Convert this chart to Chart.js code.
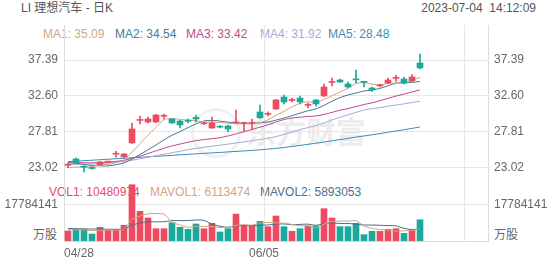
<!DOCTYPE html>
<html>
<head>
<meta charset="utf-8">
<script src="https://cdn.jsdelivr.net/npm/chart.js@4.4.0/dist/chart.umd.min.js"></script>
<style>
  body { margin: 0; background: #fff; font-family: "Liberation Sans", Arial, "Noto Sans CJK SC", sans-serif; }
  #wrap { position: relative; width: 552px; height: 265px; overflow: hidden; }
  .t { position: absolute; font-size: 12px; line-height: 14px; white-space: pre; }
  .wm { position: absolute; color: rgba(170,170,170,0.22); font-family: "Noto Sans CJK SC", sans-serif; }
  canvas { position: absolute; left: 0; top: 0; z-index: 1; }
</style>
</head>
<body>
<div id="wrap">
  <div class="t" style="left:21px;top:1px;color:#555">LI 理想汽车 - 日K</div>
  <div class="t" style="right:16px;top:1px;color:#555">2023-07-04  14:12:09</div>
  <div class="wm" style="left:191px;top:108px;width:44px;height:44px;border:3px solid rgba(170,170,170,0.18);border-radius:50%"></div>
  <div class="wm" style="left:246px;top:110px;font-size:30px;font-weight:bold;line-height:40px">东方财富</div>
  <div id="maLegend"></div>
  <div id="volLegend"></div>
  <div class="t" style="left:33px;top:228px;color:#666">万股</div>
  <div class="t" style="left:494px;top:228px;color:#666">万股</div>
  <canvas id="kline" width="552" height="265"></canvas>
</div>
<script>
// trading days shown, then empty slots to the right
const dates = ["04/28", "05/01", "05/02", "05/03", "05/04", "05/05", "05/08", "05/09", "05/10", "05/11",
  "05/12", "05/15", "05/16", "05/17", "05/18", "05/19", "05/22", "05/23", "05/24", "05/25",
  "05/26", "05/30", "05/31", "06/01", "06/02", "06/05", "06/06", "06/07", "06/08", "06/09",
  "06/12", "06/13", "06/14", "06/15", "06/16", "06/20", "06/21", "06/22", "06/23", "06/26",
  "06/27", "06/28", "06/29", "06/30", "07/03"];
const slotCount = 53;
const xTickLabels = ["04/28", "06/05"];
const priceTicks = [37.39, 32.60, 27.81, 23.02];
const volTicks = [17784141];

const opens = [23.38, 24.22, 23.20, 23.10, 23.42, 23.80, 24.85, 24.48, 26.35, 29.35,
  29.14, 29.14, 29.90, 29.54, 29.27, 29.30, 29.75, 28.90, 28.34, 28.55,
  28.61, 29.01, 28.95, 28.95, 30.47, 30.15, 30.87, 32.47, 32.00, 32.33,
  31.35, 32.07, 32.60, 34.40, 34.73, 34.20, 34.86, 34.50, 33.66, 33.95,
  34.33, 34.95, 34.86, 34.60, 36.99];
const highs = [23.70, 24.35, 23.35, 23.15, 23.90, 23.92, 25.25, 24.95, 29.01, 29.94,
  29.80, 30.15, 30.20, 29.60, 29.35, 29.54, 30.07, 29.10, 29.81, 28.65,
  28.70, 30.74, 29.14, 29.54, 31.40, 30.50, 32.15, 32.73, 32.33, 32.60,
  31.67, 32.15, 34.20, 34.99, 34.86, 34.46, 36.06, 34.50, 33.80, 34.20,
  35.00, 35.35, 35.10, 35.45, 38.19];
const lows = [23.05, 23.60, 22.49, 22.85, 23.38, 23.72, 24.45, 24.40, 26.30, 28.87,
  29.01, 29.05, 29.54, 28.95, 28.34, 29.01, 29.14, 28.80, 28.30, 28.35,
  27.81, 28.95, 27.81, 28.21, 29.60, 29.95, 30.80, 31.54, 31.80, 31.54,
  31.00, 31.27, 32.55, 33.93, 34.40, 33.66, 34.33, 33.80, 33.20, 33.80,
  34.25, 34.55, 34.20, 34.50, 36.20];
const closes = [23.46, 23.69, 23.12, 22.95, 23.82, 23.84, 24.92, 24.88, 28.21, 29.45,
  29.54, 30.07, 29.97, 29.01, 28.74, 29.24, 29.55, 28.98, 29.01, 28.45,
  28.21, 29.10, 29.05, 29.05, 29.70, 30.25, 32.07, 31.80, 32.10, 31.80,
  31.45, 31.54, 33.80, 34.50, 34.46, 33.80, 34.75, 34.42, 33.40, 34.05,
  34.73, 35.05, 34.33, 35.13, 36.33];

const ma1 = [23.05, 23.15, 23.15, 23.20, 23.41, 23.48, 23.73, 24.08, 25.13, 26.26,
  27.40, 28.43, 29.45, 29.61, 29.47, 29.41, 29.30, 29.15, 29.12, 29.08,
  28.95, 28.90, 28.90, 28.92, 29.05, 29.43, 30.02, 30.57, 31.18, 31.60,
  31.84, 31.74, 32.14, 32.62, 33.15, 33.62, 34.26, 34.39, 34.17, 34.08,
  34.27, 34.33, 34.31, 34.66, 35.09];
const ma2 = [23.75, 23.65, 23.50, 23.35, 23.30, 23.30, 23.45, 23.70, 24.20, 24.83,
  25.44, 26.08, 26.77, 27.37, 27.86, 28.40, 28.87, 29.28, 29.36, 29.26,
  29.12, 29.03, 28.93, 28.94, 29.03, 29.14, 29.39, 29.67, 29.98, 30.31,
  30.64, 30.88, 31.36, 31.90, 32.38, 32.73, 33.00, 33.26, 33.39, 33.62,
  33.95, 34.30, 34.35, 34.41, 34.54];
const ma3 = [23.70, 23.72, 23.72, 23.70, 23.75, 23.80, 23.90, 24.05, 24.30, 24.60,
  24.95, 25.30, 25.65, 25.95, 26.20, 26.45, 26.65, 26.80, 26.92, 27.05,
  27.28, 27.55, 27.85, 28.15, 28.45, 28.77, 29.13, 29.47, 29.67, 29.78,
  29.88, 29.95, 30.15, 30.42, 30.71, 30.93, 31.19, 31.47, 31.69, 31.97,
  32.29, 32.59, 32.85, 33.14, 33.42];
const ma4 = [23.45, 23.50, 23.52, 23.55, 23.60, 23.68, 23.78, 23.90, 24.05, 24.25,
  24.45, 24.65, 24.85, 25.05, 25.25, 25.45, 25.62, 25.78, 25.92, 26.05,
  26.20, 26.35, 26.50, 26.65, 26.80, 26.98, 27.20, 27.50, 27.82, 28.13,
  28.40, 28.66, 29.02, 29.40, 29.76, 30.09, 30.42, 30.74, 30.91, 31.06,
  31.24, 31.40, 31.55, 31.73, 31.92];
const ma5 = [23.86, 23.92, 23.99, 24.05, 24.12, 24.18, 24.25, 24.31, 24.38, 24.44,
  24.51, 24.57, 24.64, 24.70, 24.77, 24.83, 24.90, 24.96, 25.03, 25.09,
  25.16, 25.22, 25.29, 25.36, 25.44, 25.53, 25.63, 25.75, 25.88, 26.02,
  26.17, 26.32, 26.48, 26.64, 26.80, 26.96, 27.12, 27.28, 27.44, 27.60,
  27.77, 27.94, 28.11, 28.29, 28.48];

const volumes = [4940000, 5760000, 5760000, 3460000, 6750000, 5430000, 5760000, 7740000, 27800000, 14650000,
  11360000, 6090000, 6090000, 9050000, 6750000, 5760000, 8400000, 6090000, 8720000, 4450000,
  6090000, 13300000, 7740000, 7740000, 9710000, 7080000, 12350000, 7080000, 4770000, 6090000,
  7410000, 7410000, 15970000, 11360000, 7080000, 7080000, 8720000, 3130000, 4770000, 4770000,
  5760000, 6090000, 3790000, 5430000, 10480974];
const mavol1 = [5600000, 5500000, 5400000, 5200000, 5330000, 5430000, 5430000, 5830000, 10700000, 12280000,
  13460000, 13530000, 13200000, 9450000, 7870000, 6750000, 7210000, 7210000, 7140000, 6680000,
  6750000, 7730000, 8060000, 7860000, 8920000, 9110000, 8920000, 8790000, 8200000, 7470000,
  7540000, 6550000, 8330000, 9650000, 9850000, 9780000, 10040000, 7470000, 6160000, 5690000,
  5430000, 4900000, 5040000, 5170000, 6113474];
const mavol2 = [6200000, 6100000, 6000000, 5900000, 5900000, 5800000, 5800000, 5900000, 7900000, 8810000,
  9450000, 9480000, 9510000, 10070000, 10070000, 10110000, 10370000, 10200000, 8300000, 7280000,
  6750000, 7470000, 7640000, 7500000, 7800000, 7930000, 8330000, 8430000, 8030000, 8200000,
  8330000, 7740000, 8560000, 8920000, 8660000, 8660000, 8300000, 7900000, 7900000, 7770000,
  7610000, 7470000, 6260000, 5660000, 5893053];

const upColor = "#ee4a62";
const downColor = "#1ba99b";
const maColors = ["#d6a57e", "#457d93", "#c24a8e", "#a9a8d8", "#3b90b4"];
const volLineColors = ["#cfa585", "#4d6f8c"];
const textColor = "#666";
const gridColor = "#e6e6e6";
const borderColor = "#dcdcdc";
const font = { size: 12, family: "'Liberation Sans', Arial, sans-serif" };

const labels = dates.concat(Array(slotCount - dates.length).fill(""));
const isUp = (i) => closes[i] >= opens[i];
const candleColor = (ctx) => (isUp(ctx.dataIndex) ? upColor : downColor);

// legends above each panel
const maSeries = [ma1, ma2, ma3, ma4, ma5];
const maLeft = [43, 115, 186, 260, 328];
document.getElementById("maLegend").innerHTML = maSeries
  .map((s, i) => `<div class="t" style="left:${maLeft[i]}px;top:27px;color:${maColors[i]}">MA${i + 1}: ${s[s.length - 1].toFixed(2)}</div>`)
  .join("");
const volLegend = [
  ["VOL1", volumes, upColor, 49],
  ["MAVOL1", mavol1, volLineColors[0], 150],
  ["MAVOL2", mavol2, volLineColors[1], 260]
];
document.getElementById("volLegend").innerHTML = volLegend
  .map(([name, s, c, x]) => `<div class="t" style="left:${x}px;top:185px;color:${c}">${name}: ${s[s.length - 1]}</div>`)
  .join("");

const fitWidth = (s) => { s.width = 64; };
const setTicks = (arr) => (s) => { s.ticks = arr.map((v) => ({ value: v })); };

function yAxis(position, stack, weight, min, max, tickArr, fmt, drawGrid) {
  return {
    position: position,
    stack: stack,
    stackWeight: weight,
    min: min,
    max: max,
    afterBuildTicks: setTicks(tickArr),
    afterFit: fitWidth,
    grid: { color: gridColor, drawTicks: false, drawOnChartArea: drawGrid },
    border: { color: borderColor },
    ticks: { padding: 6, color: textColor, font: font, callback: fmt }
  };
}

const priceFmt = (v) => Number(v).toFixed(2);
const volFmt = (v) => String(v);

const lineSet = (data, color, axis) => ({
  type: "line",
  data: data,
  yAxisID: axis,
  borderColor: color,
  borderWidth: 1,
  pointRadius: 0,
  tension: 0.3,
  fill: false
});

const ctx = document.getElementById("kline").getContext("2d");
new Chart(ctx, {
  type: "bar",
  data: {
    labels: labels,
    datasets: [
      {
        data: opens.map((o, i) => [o, closes[i]]),
        yAxisID: "p",
        backgroundColor: candleColor,
        barThickness: 6,
        minBarLength: 1,
        grouped: false
      },
      {
        data: lows.map((l, i) => [l, highs[i]]),
        yAxisID: "p",
        backgroundColor: candleColor,
        barThickness: 1,
        grouped: false
      },
      lineSet(ma1, maColors[0], "p"),
      lineSet(ma2, maColors[1], "p"),
      lineSet(ma3, maColors[2], "p"),
      lineSet(ma4, maColors[3], "p"),
      lineSet(ma5, maColors[4], "p"),
      lineSet(mavol1, volLineColors[0], "v"),
      lineSet(mavol2, volLineColors[1], "v"),
      {
        data: volumes,
        yAxisID: "v",
        backgroundColor: candleColor,
        barThickness: 6,
        grouped: false
      }
    ]
  },
  options: {
    responsive: false,
    animation: false,
    events: [],
    layout: { padding: { top: 25 } },
    plugins: { legend: { display: false }, tooltip: { enabled: false } },
    scales: {
      x: {
        offset: true,
        grid: {
          offset: true,
          drawTicks: false,
          color: (c) => (c.index % 25 === 0 ? gridColor : "rgba(0,0,0,0)")
        },
        border: { color: borderColor },
        ticks: {
          autoSkip: false,
          maxRotation: 0,
          minRotation: 0,
          align: "inner",
          labelOffset: -4,
          padding: 5,
          color: textColor,
          font: font,
          callback: (v, i) => (xTickLabels.includes(labels[i]) ? labels[i] : "")
        },
        afterFit: (s) => { s.height = 24; }
      },
      // left boxes are laid out in reverse order, so volume is listed first
      v: yAxis("left", "L", 58, 0, 28652227, volTicks, volFmt, true),
      p: yAxis("left", "L", 158, 21.02, 42.05, priceTicks, priceFmt, true),
      p2: yAxis("right", "R", 158, 21.02, 42.05, priceTicks, priceFmt, false),
      v2: yAxis("right", "R", 58, 0, 28652227, volTicks, volFmt, false)
    }
  }
});
</script>
</body>
</html>
